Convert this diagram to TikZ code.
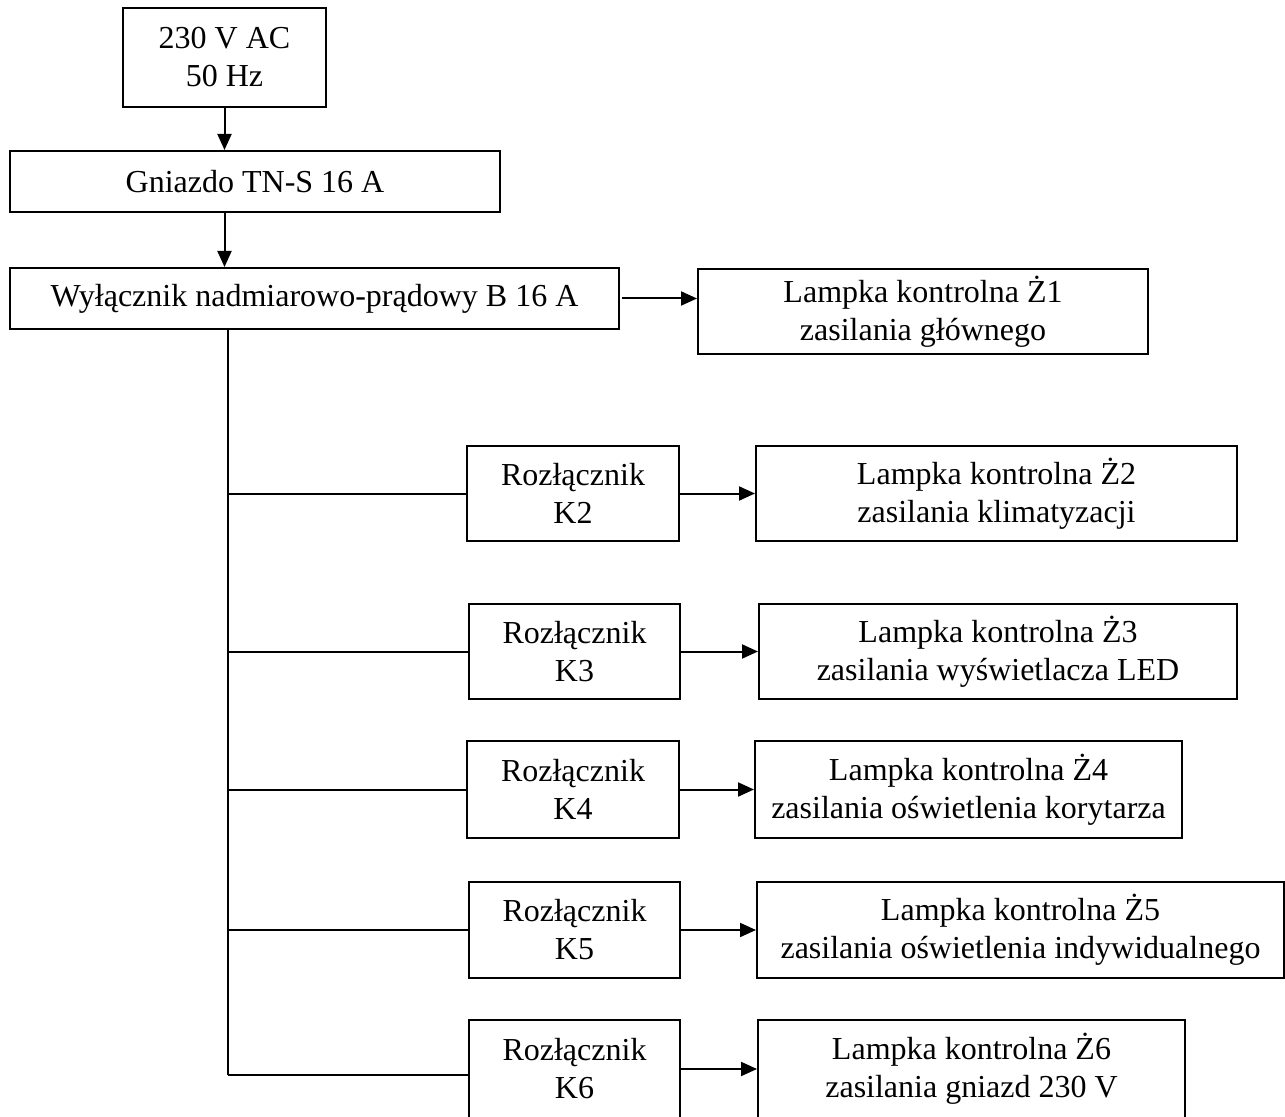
\documentclass[tikz,border=0pt]{standalone}
\usepackage{fontspec}
\setmainfont{Liberation Serif}
\usetikzlibrary{arrows.meta}

\begin{document}
\begin{tikzpicture}[x=0.5pt, y=-0.5pt,
		blok/.style={draw, line width=1pt, inner sep=0pt, align=center,
			font=\fontsize{16}{19}\selectfont},
		strz/.style={line width=1pt, -{Triangle[length=8pt,width=7pt]}},
		linia/.style={line width=1pt}
	]
		\clip (0, 0) rectangle (1285, 1117);

		% zasilanie, gniazdo i wylacznik
		\node[blok, minimum width=101.5pt, minimum height=49.5pt] (zasilanie) at (224.5, 57.5) {230 V AC\\50 Hz};
		\node[blok, minimum width=245pt, minimum height=30.5pt] (gniazdo) at (255, 181.5) {Gniazdo TN-S 16 A};
		\node[blok, minimum width=304.5pt, minimum height=30.5pt] (wylacznik) at (314.5, 298.5) {Wyłącznik nadmiarowo-prądowy B 16 A};
		\node[blok, minimum width=225pt, minimum height=42.5pt] (lampka1) at (923, 311.5) {Lampka kontrolna Ż1\\zasilania głównego};

		% rozlaczniki
		\node[blok, minimum width=106pt, minimum height=47.5pt] (k2) at (573, 493.5) {Rozłącznik\\K2};
		\node[blok, minimum width=105.5pt, minimum height=47.5pt] (k3) at (574.5, 651.5) {Rozłącznik\\K3};
		\node[blok, minimum width=106pt, minimum height=48.5pt] (k4) at (573, 789.5) {Rozłącznik\\K4};
		\node[blok, minimum width=105.5pt, minimum height=48pt] (k5) at (574.5, 930) {Rozłącznik\\K5};
		\node[blok, minimum width=105.5pt, minimum height=49pt] (k6) at (574.5, 1069) {Rozłącznik\\K6};

		% lampki kontrolne
		\node[blok, minimum width=240.5pt, minimum height=47.5pt] (lampka2) at (996.5, 493.5) {Lampka kontrolna Ż2\\zasilania klimatyzacji};
		\node[blok, minimum width=239pt, minimum height=47.5pt] (lampka3) at (998, 651.5) {Lampka kontrolna Ż3\\zasilania wyświetlacza LED};
		\node[blok, minimum width=213.5pt, minimum height=48.5pt] (lampka4) at (968.5, 789.5) {Lampka kontrolna Ż4\\zasilania oświetlenia korytarza};
		\node[blok, minimum width=263.5pt, minimum height=48pt] (lampka5) at (1020.5, 930) {Lampka kontrolna Ż5\\zasilania oświetlenia indywidualnego};
		\node[blok, minimum width=213.5pt, minimum height=49pt] (lampka6) at (971.5, 1069) {Lampka kontrolna Ż6\\zasilania gniazd 230 V};

		% strzalki w torze glownym
		\draw[strz] (zasilanie.south) -- (zasilanie.south |- gniazdo.north);
		\draw[strz] (gniazdo.south -| zasilanie.south) -- (wylacznik.north -| zasilanie.south);
		\draw[strz] ([xshift=1pt]wylacznik.east) -- (wylacznik.east -| lampka1.west);

		% szyna i odgalezienia
		\coordinate (szyna) at (228, 1075);
		\draw[linia] (wylacznik.south -| szyna) -- (szyna);
		\draw[linia] (szyna |- k2.west) -- (k2.west);
		\draw[linia] (szyna |- k3.west) -- (k3.west);
		\draw[linia] (szyna |- k4.west) -- (k4.west);
		\draw[linia] (szyna |- k5.west) -- (k5.west);
		\draw[linia] (szyna) -- (szyna -| k6.west);

		% rozlaczniki do lampek
		\draw[strz] (k2.east) -- (k2.east -| lampka2.west);
		\draw[strz] (k3.east) -- (k3.east -| lampka3.west);
		\draw[strz] (k4.east) -- (k4.east -| lampka4.west);
		\draw[strz] (k5.east) -- (k5.east -| lampka5.west);
		\draw[strz] (k6.east) -- (k6.east -| lampka6.west);
	\end{tikzpicture}
\end{document}
